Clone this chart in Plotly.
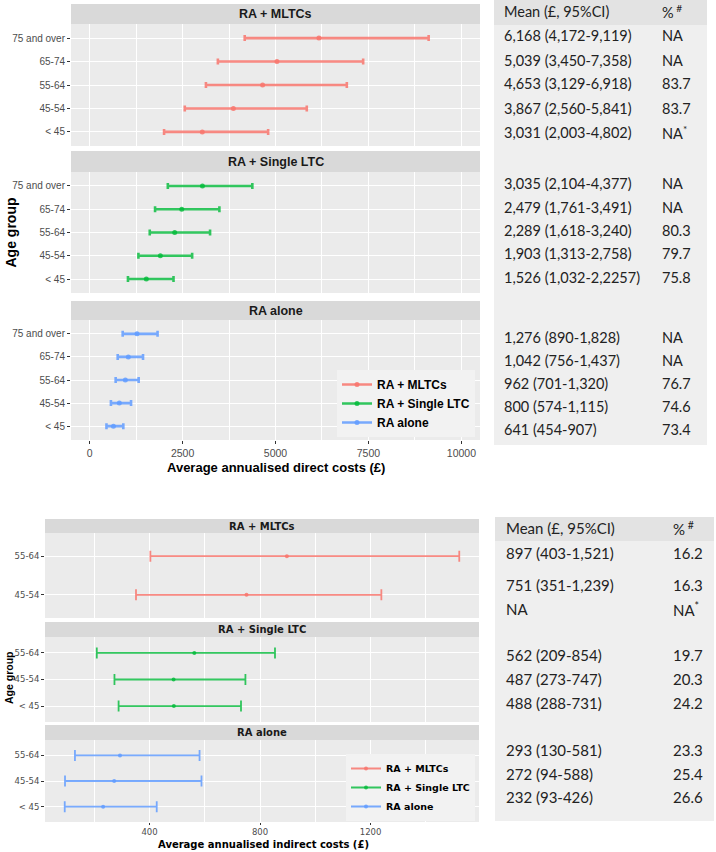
import numpy as np
import plotly.graph_objects as go

W, H = 716, 852


def fx(px):
    return px / W


def fy(py):
    return 1 - py / H


# ---------------- data ----------------
groups = ["RA + MLTCs", "RA + Single LTC", "RA alone"]
group_colors = ["rgba(248,118,109,0.85)", "rgba(0,186,56,0.8)", "rgba(97,156,255,0.85)"]

age_order = ["< 45", "45-54", "55-64", "65-74", "75 and over"]
indirect_order_mltc = ["45-54", "55-64"]
indirect_order = ["< 45", "45-54", "55-64"]

direct_ages = ["75 and over", "65-74", "55-64", "45-54", "< 45"]
direct_mltc_mean = [6168, 5039, 4653, 3867, 3031]
direct_mltc_lo = [4172, 3450, 3129, 2560, 2003]
direct_mltc_hi = [9119, 7358, 6918, 5841, 4802]
direct_single_mean = [3035, 2479, 2289, 1903, 1526]
direct_single_lo = [2104, 1761, 1618, 1313, 1032]
direct_single_hi = [4377, 3491, 3240, 2758, 2257]
direct_alone_mean = [1276, 1042, 962, 800, 641]
direct_alone_lo = [890, 756, 701, 574, 454]
direct_alone_hi = [1828, 1437, 1320, 1115, 907]

indirect_mltc_ages = ["55-64", "45-54"]
indirect_mltc_mean = [897, 751]
indirect_mltc_lo = [403, 351]
indirect_mltc_hi = [1521, 1239]
indirect_ages = ["55-64", "45-54", "< 45"]
indirect_single_mean = [562, 487, 488]
indirect_single_lo = [209, 273, 288]
indirect_single_hi = [854, 747, 731]
indirect_alone_mean = [293, 272, 232]
indirect_alone_lo = [130, 94, 93]
indirect_alone_hi = [581, 588, 426]

direct_ticks = [0, 2500, 5000, 7500, 10000]
direct_tick_labels = ["0", "2500", "5000", "7500", "10000"]
direct_minor = [1250, 3750, 6250, 8750]
indirect_ticks = [400, 800, 1200]
indirect_tick_labels = ["400", "800", "1200"]
indirect_minor = [200, 600, 1000, 1400]

table_header = ["Mean (£, 95%CI)", "%<sup> #</sup>"]
direct_table_mean = [
    "6,168 (4,172-9,119)", "5,039 (3,450-7,358)", "4,653 (3,129-6,918)",
    "3,867 (2,560-5,841)", "3,031 (2,003-4,802)",
    "3,035 (2,104-4,377)", "2,479 (1,761-3,491)", "2,289 (1,618-3,240)",
    "1,903 (1,313-2,758)", "1,526 (1,032-2,2257)",
    "1,276 (890-1,828)", "1,042 (756-1,437)", "962 (701-1,320)",
    "800 (574-1,115)", "641 (454-907)",
]
direct_table_pct = [
    "NA", "NA", "83.7", "83.7", "NA<sup>*</sup>",
    "NA", "NA", "80.3", "79.7", "75.8",
    "NA", "NA", "76.7", "74.6", "73.4",
]
indirect_table_mean = [
    "897 (403-1,521)", "751 (351-1,239)", "NA",
    "562 (209-854)", "487 (273-747)", "488 (288-731)",
    "293 (130-581)", "272 (94-588)", "232 (93-426)",
]
indirect_table_pct = [
    "16.2", "16.3", "NA<sup>*</sup>",
    "19.7", "20.3", "24.2",
    "23.3", "25.4", "26.6",
]

# ---------------- layout geometry (pixels) ----------------
top_x = (71, 480)
top_panels = [(4, 24, 146), (151, 172, 293), (301, 320, 440)]
bot_x = (45, 479)
bot_panels = [(519, 533, 618), (622, 637, 722), (725, 740, 822)]

top_rows_y = [36, 60, 84, 108, 132, 183, 207, 231, 254, 277, 337, 360, 383, 406, 429]
bot_rows_y = [553, 585, 609, 655, 679, 703, 750, 774, 797]

PANEL_BG = "#EBEBEB"
STRIP_BG = "#D9D9D9"
TICK_GREY = "#4D4D4D"

fig = go.Figure()

direct_sets = [
    (direct_ages, direct_mltc_mean, direct_mltc_lo, direct_mltc_hi),
    (direct_ages, direct_single_mean, direct_single_lo, direct_single_hi),
    (direct_ages, direct_alone_mean, direct_alone_lo, direct_alone_hi),
]
indirect_sets = [
    (indirect_mltc_ages, indirect_mltc_mean, indirect_mltc_lo, indirect_mltc_hi),
    (indirect_ages, indirect_single_mean, indirect_single_lo, indirect_single_hi),
    (indirect_ages, indirect_alone_mean, indirect_alone_lo, indirect_alone_hi),
]


def add_panel(n, data, color, thick, capw, msize):
    ages, mean, lo, hi = data
    mean = np.array(mean)
    fig.add_trace(go.Scatter(
        x=mean, y=ages, mode="markers",
        marker=dict(color=color, size=msize),
        error_x=dict(type="data", symmetric=False,
                     array=np.array(hi) - mean, arrayminus=mean - np.array(lo),
                     color=color, thickness=thick, width=capw),
        xaxis=f"x{n}", yaxis=f"y{n}", showlegend=False,
    ))


for i in range(3):
    add_panel(i + 1, direct_sets[i], group_colors[i], 2.6, 3, 5)
for i in range(3):
    add_panel(i + 4, indirect_sets[i], group_colors[i], 1.8, 5.5, 4)

# legend entries
for i, g in enumerate(groups):
    fig.add_trace(go.Scatter(
        x=[None], y=[None], mode="lines+markers", name=g,
        line=dict(color=group_colors[i], width=2.5), marker=dict(color=group_colors[i], size=5),
        xaxis="x3", yaxis="y3", legend="legend",
    ))
    fig.add_trace(go.Scatter(
        x=[None], y=[None], mode="lines+markers", name=g,
        line=dict(color=group_colors[i], width=2), marker=dict(color=group_colors[i], size=4),
        xaxis="x6", yaxis="y6", legend="legend2",
    ))

layout = dict(
    width=W, height=H, margin=dict(l=0, r=0, t=0, b=0),
    paper_bgcolor="white", plot_bgcolor=PANEL_BG, showlegend=True,
    legend=dict(x=fx(475), xanchor="right", y=fy(437), yanchor="bottom",
                bgcolor="#F2F2F2", borderwidth=0, itemwidth=30, tracegroupgap=0,
                font=dict(family="Arial, Liberation Sans", size=12, color="black", weight="bold")),
    legend2=dict(x=fx(475), xanchor="right", y=fy(821), yanchor="bottom",
                 bgcolor="#F2F2F2", borderwidth=0, itemwidth=30, tracegroupgap=0,
                 font=dict(family="DejaVu Sans", size=9.5, color="black", weight="bold")),
)

shapes = []
annotations = []

# top chart axes
for i, (st, pt, pb) in enumerate(top_panels):
    n = i + 1
    last = (i == 2)
    layout[f"xaxis{n}"] = dict(
        domain=[fx(top_x[0]), fx(top_x[1])], anchor=f"y{n}", range=[-500, 10500],
        tickmode="array", tickvals=direct_ticks, ticktext=direct_tick_labels,
        showticklabels=last,
        ticks="outside" if last else "", ticklen=3, tickcolor="#333333",
        tickfont=dict(family="Arial, Liberation Sans", size=10.5, color=TICK_GREY),
        showgrid=True, gridcolor="white", gridwidth=1.1, zeroline=False,
        minor=dict(tickvals=direct_minor, showgrid=True, gridcolor="white", gridwidth=0.5),
    )
    layout[f"yaxis{n}"] = dict(
        domain=[fy(pb), fy(pt)], anchor=f"x{n}", type="category",
        categoryorder="array", categoryarray=age_order, range=[-0.6, 4.6],
        ticks="outside", ticklen=3, tickcolor="#333333",
        tickfont=dict(family="Arial, Liberation Sans", size=10, color=TICK_GREY),
        showgrid=True, gridcolor="white", gridwidth=1.1, zeroline=False,
    )
    shapes.append(dict(type="rect", xref="paper", yref="paper",
                       x0=fx(top_x[0]), x1=fx(top_x[1]), y0=fy(pt), y1=fy(st),
                       fillcolor=STRIP_BG, line=dict(width=0)))
    annotations.append(dict(text=groups[i], xref="paper", yref="paper",
                            x=fx((top_x[0] + top_x[1]) / 2), y=fy((st + pt) / 2),
                            showarrow=False, xanchor="center", yanchor="middle",
                            font=dict(family="Arial, Liberation Sans", size=12.5,
                                      color="#1A1A1A", weight="bold")))

# bottom chart axes
for i, (st, pt, pb) in enumerate(bot_panels):
    n = i + 4
    last = (i == 2)
    cats = indirect_order_mltc if i == 0 else indirect_order
    layout[f"xaxis{n}"] = dict(
        domain=[fx(bot_x[0]), fx(bot_x[1])], anchor=f"y{n}", range=[21.6, 1592.4],
        tickmode="array", tickvals=indirect_ticks, ticktext=indirect_tick_labels,
        showticklabels=last,
        ticks="outside" if last else "", ticklen=2, tickcolor="#333333",
        tickfont=dict(family="DejaVu Sans", size=8.5, color=TICK_GREY),
        showgrid=True, gridcolor="white", gridwidth=1.1, zeroline=False,
        minor=dict(tickvals=indirect_minor, showgrid=True, gridcolor="white", gridwidth=0.6),
    )
    layout[f"yaxis{n}"] = dict(
        domain=[fy(pb), fy(pt)], anchor=f"x{n}", type="category",
        categoryorder="array", categoryarray=cats, range=[-0.6, len(cats) - 0.4],
        ticks="outside", ticklen=3, tickcolor="#333333",
        tickfont=dict(family="DejaVu Sans", size=8.5, color=TICK_GREY),
        showgrid=True, gridcolor="white", gridwidth=1.1, zeroline=False,
    )
    shapes.append(dict(type="rect", xref="paper", yref="paper",
                       x0=fx(bot_x[0]), x1=fx(bot_x[1]), y0=fy(pt), y1=fy(st),
                       fillcolor=STRIP_BG, line=dict(width=0)))
    annotations.append(dict(text=groups[i], xref="paper", yref="paper",
                            x=fx((bot_x[0] + bot_x[1]) / 2), y=fy((st + pt) / 2),
                            showarrow=False, xanchor="center", yanchor="middle",
                            font=dict(family="DejaVu Sans", size=10,
                                      color="#1A1A1A", weight="bold")))

# axis titles
annotations.append(dict(text="Average annualised direct costs (£)", xref="paper", yref="paper",
                        x=fx((top_x[0] + top_x[1]) / 2), y=fy(467), showarrow=False,
                        xanchor="center", yanchor="middle",
                        font=dict(family="Arial, Liberation Sans", size=13, color="black", weight="bold")))
annotations.append(dict(text="Age group", xref="paper", yref="paper",
                        x=fx(10.5), y=fy(233), showarrow=False, textangle=-90,
                        xanchor="center", yanchor="middle",
                        font=dict(family="Arial, Liberation Sans", size=14, color="black", weight="bold")))
annotations.append(dict(text="Average annualised indirect costs (£)", xref="paper", yref="paper",
                        x=fx(263), y=fy(844), showarrow=False,
                        xanchor="center", yanchor="middle",
                        font=dict(family="DejaVu Sans", size=10, color="black", weight="bold")))
annotations.append(dict(text="Age group", xref="paper", yref="paper",
                        x=fx(9), y=fy(678), showarrow=False, textangle=-90,
                        xanchor="center", yanchor="middle",
                        font=dict(family="Arial, Liberation Sans", size=10.5, color="black", weight="bold")))

# tables
TABLE_BG = "#EFEFEF"
TABLE_HEAD = "#E3E3E3"
TABLE_FONT = "Lato, Open Sans, sans-serif"


def add_table(x0, x1, y0, yhead, y1, col1, col2, header_y, rows_y, means, pcts, fsize):
    shapes.append(dict(type="rect", xref="paper", yref="paper", x0=fx(x0), x1=fx(x1),
                       y0=fy(y1), y1=fy(y0), fillcolor=TABLE_BG, line=dict(width=0), layer="below"))
    shapes.append(dict(type="rect", xref="paper", yref="paper", x0=fx(x0), x1=fx(x1),
                       y0=fy(yhead), y1=fy(y0), fillcolor=TABLE_HEAD, line=dict(width=0), layer="below"))
    for txt, cx in zip(table_header, (col1, col2)):
        annotations.append(dict(text=txt, xref="paper", yref="paper", x=fx(cx), y=fy(header_y),
                                showarrow=False, xanchor="left", yanchor="middle",
                                font=dict(family=TABLE_FONT, size=fsize, color="#222222")))
    for ry, m, p in zip(rows_y, means, pcts):
        annotations.append(dict(text=m, xref="paper", yref="paper", x=fx(col1), y=fy(ry),
                                showarrow=False, xanchor="left", yanchor="middle",
                                font=dict(family=TABLE_FONT, size=fsize, color="#222222")))
        annotations.append(dict(text=p, xref="paper", yref="paper", x=fx(col2), y=fy(ry),
                                showarrow=False, xanchor="left", yanchor="middle",
                                font=dict(family=TABLE_FONT, size=fsize, color="#222222")))


add_table(494, 707, 0, 25, 445, 502, 660, 12, top_rows_y, direct_table_mean, direct_table_pct, 14.5)
add_table(495, 714, 517, 541, 821, 504, 671, 528, bot_rows_y, indirect_table_mean, indirect_table_pct, 15)

layout["shapes"] = shapes
layout["annotations"] = annotations
fig.update_layout(**layout)

fig.write_html(
    "out.html",
    config={"displayModeBar": False},
    post_script="document.body.style.margin='0px';document.body.style.padding='0px';"
                "document.body.style.overflow='hidden';",
)
